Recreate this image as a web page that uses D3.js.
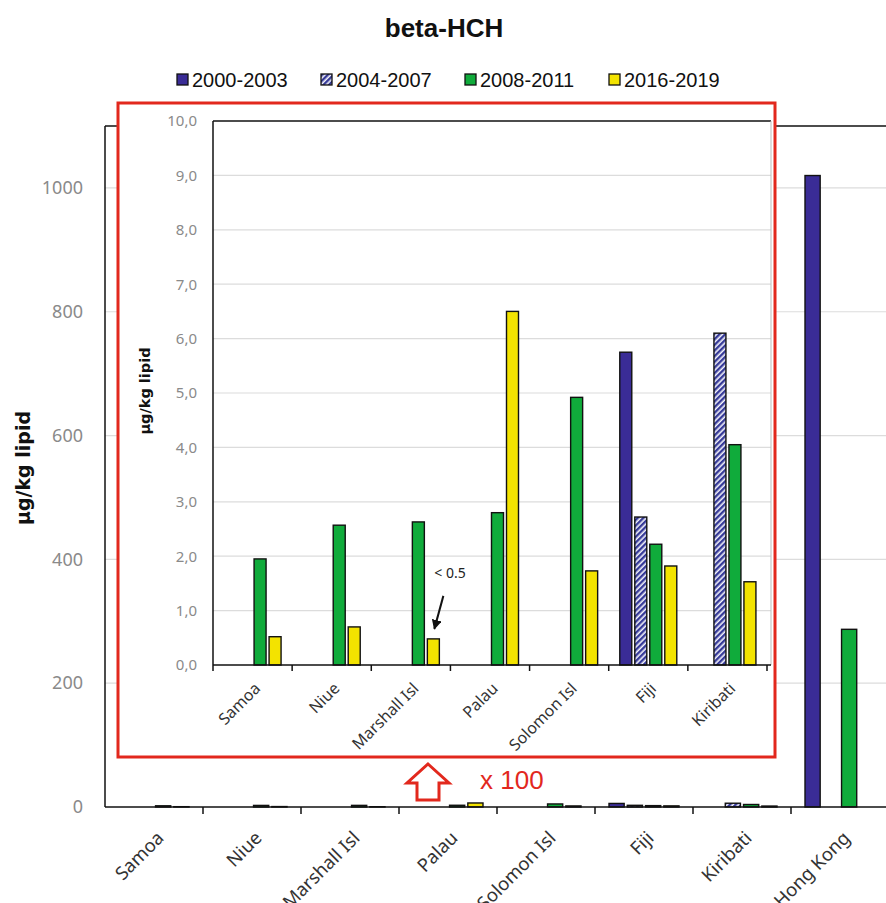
<!DOCTYPE html>
<html><head><meta charset="utf-8">
<script src="https://cdn.jsdelivr.net/npm/d3@7/dist/d3.min.js"></script>
<style>
html,body{margin:0;padding:0;background:#fff;}
svg{display:block;}
</style></head>
<body>
<script>
// ---------- data ----------
const categories = ["Samoa","Niue","Marshall Isl","Palau","Solomon Isl","Fiji","Kiribati","Hong Kong"];
const insetCategories = ["Samoa","Niue","Marshall Isl","Palau","Solomon Isl","Fiji","Kiribati"];
const seriesNames = ["2000-2003","2004-2007","2008-2011","2016-2019"];
const values2000_2003 = [null,null,null,null,null,5.75,null,1020];
const values2004_2007 = [null,null,null,null,null,2.72,6.10,null];
const values2008_2011 = [1.95,2.57,2.63,2.80,4.92,2.22,4.05,287];
const values2016_2019 = [0.52,0.70,0.48,6.50,1.73,1.82,1.53,null];
const mainTicks = [0,200,400,600,800,1000];
const insetTicks = [0,1,2,3,4,5,6,7,8,9,10];
const titleText = "beta-HCH";
const yLabel = "µg/kg lipid";
const noteText = "< 0.5";
const zoomText = "x 100";

const seriesValues = [values2000_2003, values2004_2007, values2008_2011, values2016_2019];
const colors = {"2000-2003":"#3a2c96","2004-2007":"url(#hatch)","2008-2011":"#10ab3b","2016-2019":"#f3e300"};

const W = 886, H = 903;
const svg = d3.select("body").append("svg").attr("width", W).attr("height", H)
  .style("font-family", "'Liberation Sans', Arial, sans-serif");

const defs = svg.append("defs");
const pat = defs.append("pattern").attr("id","hatch").attr("patternUnits","userSpaceOnUse")
  .attr("width",4).attr("height",4).attr("patternTransform","rotate(45)");
pat.append("rect").attr("width",4).attr("height",4).attr("fill","#f4f4fb");
pat.append("line").attr("x1",1.2).attr("y1",0).attr("x2",1.2).attr("y2",4)
  .attr("stroke","#363a98").attr("stroke-width",2.4);
defs.append("marker").attr("id","arrowhead").attr("viewBox","0 0 10 10").attr("refX",9).attr("refY",5)
  .attr("markerWidth",5).attr("markerHeight",5).attr("orient","auto")
  .append("path").attr("d","M0,0L10,5L0,10z").attr("fill","#111");

// ---------- main chart ----------
const M = {left:105, top:126, right:889, bottom:807};
const x0 = d3.scaleBand().domain(categories).range([M.left, M.right]).padding(0);
const groupW = 70;
const x1 = d3.scaleBand().domain(seriesNames).range([0, groupW]).paddingInner(0.17).paddingOuter(0);
const y = d3.scaleLinear().domain([0,1100]).range([M.bottom, M.top]);

// gridlines
svg.append("g").selectAll("line").data(mainTicks.filter(d=>d>0)).join("line")
  .attr("x1", M.left).attr("x2", W).attr("y1", d=>y(d)).attr("y2", d=>y(d))
  .attr("stroke","#dcdcdc").attr("stroke-width",1.2);

// frame top
svg.append("line").attr("x1",M.left).attr("x2",W).attr("y1",M.top).attr("y2",M.top)
  .attr("stroke","#111").attr("stroke-width",1.5);

// y axis
const yAxis = svg.append("g").attr("transform",`translate(${M.left},0)`)
  .call(d3.axisLeft(y).tickValues(mainTicks).tickSize(0).tickPadding(22).tickFormat(d3.format("d")));
yAxis.select(".domain").remove();
yAxis.selectAll("text").style("font-family","'Noto Sans', sans-serif").style("font-size","18px").attr("fill","#8a8a8a");
svg.append("line").attr("x1",M.left).attr("x2",M.left).attr("y1",M.top).attr("y2",M.bottom)
  .attr("stroke","#111").attr("stroke-width",1.5);

// bars
function drawBars(g, cats, xs0, xs1, ys, offset) {
  const rows = [];
  cats.forEach((c,i) => seriesNames.forEach((s,j) => {
    const v = seriesValues[j][i];
    if (v != null) rows.push({c, s, v});
  }));
  g.selectAll("rect").data(rows).join("rect")
    .attr("x", d => xs0(d.c) + offset + xs1(d.s))
    .attr("width", xs1.bandwidth())
    .attr("y", d => ys(d.v))
    .attr("height", d => ys(0) - ys(d.v))
    .attr("fill", d => colors[d.s])
    .attr("stroke", "#111").attr("stroke-width", 1.4);
}
drawBars(svg.append("g"), categories, x0, x1, y, (x0.bandwidth()-groupW)/2);

// x axis
svg.append("line").attr("x1",M.left).attr("x2",W).attr("y1",M.bottom).attr("y2",M.bottom)
  .attr("stroke","#111").attr("stroke-width",1.5);
const bounds = categories.map(c => x0(c)).concat([M.right]);
svg.append("g").selectAll("line").data(bounds.slice(1)).join("line")
  .attr("x1",d=>d).attr("x2",d=>d).attr("y1",M.bottom).attr("y2",M.bottom+7)
  .attr("stroke","#111").attr("stroke-width",1.5);
const xAxis = svg.append("g").attr("transform",`translate(0,${M.bottom})`)
  .call(d3.axisBottom(x0).tickSize(0));
xAxis.select(".domain").remove();
xAxis.selectAll("text")
  .attr("x",-15).attr("y",24).attr("dy","0.35em")
  .attr("transform","rotate(-45)").style("text-anchor","end")
  .style("font-family","'Noto Sans', sans-serif").style("font-size","18.5px").attr("fill","#333");

// y label
svg.append("text").attr("transform","translate(30,468) rotate(-90)")
  .attr("text-anchor","middle").style("font-family","'DejaVu Sans', sans-serif")
  .style("font-size","19px").style("font-weight","bold").attr("fill","#111")
  .text(yLabel);

// title
svg.append("text").attr("x",444).attr("y",37).attr("text-anchor","middle")
  .style("font-size","26px").style("font-weight","bold").attr("fill","#111").text(titleText);

// legend
const leg = svg.append("g").selectAll("g").data(seriesNames).join("g")
  .attr("transform",(d,i)=>`translate(${177 + i*144},80)`);
leg.append("rect").attr("x",0).attr("y",-6).attr("width",11).attr("height",11)
  .attr("fill",d=>colors[d]).attr("stroke","#111").attr("stroke-width",1.3);
leg.append("text").attr("x",15).attr("y",0).attr("dy","0.35em")
  .style("font-size","20px").attr("fill","#111").text(d=>d);

// ---------- inset ----------
svg.append("rect").attr("x",118).attr("y",103).attr("width",657).attr("height",654)
  .attr("fill","#fff").attr("stroke","#e2281d").attr("stroke-width",3);

const I = {left:213, top:121, right:767, frameRight:771, bottom:665};
const ix0 = d3.scaleBand().domain(insetCategories).range([I.left, I.right]).padding(0);
const igroupW = 57;
const ix1 = d3.scaleBand().domain(seriesNames).range([0, igroupW]).paddingInner(0.2).paddingOuter(0);
const iy = d3.scaleLinear().domain([0,10]).range([I.bottom, I.top]);

svg.append("g").selectAll("line").data(insetTicks.filter(d=>d>0 && d<10)).join("line")
  .attr("x1",I.left).attr("x2",I.frameRight).attr("y1",d=>iy(d)).attr("y2",d=>iy(d))
  .attr("stroke","#dcdcdc").attr("stroke-width",1.2);
svg.append("line").attr("x1",I.left).attr("x2",I.frameRight).attr("y1",I.top).attr("y2",I.top)
  .attr("stroke","#111").attr("stroke-width",1.5);
svg.append("line").attr("x1",I.frameRight).attr("x2",I.frameRight).attr("y1",I.top).attr("y2",I.bottom)
  .attr("stroke","#bbb").attr("stroke-width",1);

const iyAxis = svg.append("g").attr("transform",`translate(${I.left},0)`)
  .call(d3.axisLeft(iy).tickValues(insetTicks).tickSize(0).tickPadding(16)
    .tickFormat(d3.formatLocale({decimal:",",thousands:".",grouping:[3],currency:["",""]}).format(".1f")));
iyAxis.select(".domain").remove();
iyAxis.selectAll("text").style("font-family","'Noto Sans', sans-serif").style("font-size","15px").attr("fill","#8a8a8a");

drawBars(svg.append("g"), insetCategories, ix0, ix1, iy, (ix0.bandwidth()-igroupW)/2);

svg.append("line").attr("x1",I.left).attr("x2",I.left).attr("y1",I.top).attr("y2",I.bottom)
  .attr("stroke","#111").attr("stroke-width",1.5);
svg.append("line").attr("x1",I.left).attr("x2",I.frameRight).attr("y1",I.bottom).attr("y2",I.bottom)
  .attr("stroke","#111").attr("stroke-width",1.5);
const ibounds = insetCategories.map(c=>ix0(c)).concat([I.right]);
svg.append("g").selectAll("line").data(ibounds).join("line")
  .attr("x1",d=>d).attr("x2",d=>d).attr("y1",I.bottom).attr("y2",I.bottom+6)
  .attr("stroke","#111").attr("stroke-width",1.5);
const ixAxis = svg.append("g").attr("transform",`translate(0,${I.bottom})`)
  .call(d3.axisBottom(ix0).tickSize(0));
ixAxis.select(".domain").remove();
ixAxis.selectAll("text")
  .attr("x",-11).attr("y",18).attr("dy","0.35em")
  .attr("transform","rotate(-45)").style("text-anchor","end")
  .style("font-family","'Noto Sans', sans-serif").style("font-size","16px").attr("fill","#333");

svg.append("text").attr("transform","translate(150,391) rotate(-90)")
  .attr("text-anchor","middle").style("font-family","'DejaVu Sans', sans-serif")
  .style("font-size","14.5px").style("font-weight","bold").attr("fill","#111")
  .text(yLabel);

// annotation on Marshall Isl
const mx = ix0("Marshall Isl") + (ix0.bandwidth()-igroupW)/2 + ix1("2016-2019") + ix1.bandwidth()/2;
const my = iy(values2016_2019[2]);
svg.append("text").attr("x",mx+1).attr("y",my-61).style("font-size","14px")
  .style("font-family","'Noto Sans', sans-serif").attr("fill","#222").text(noteText);
svg.append("line").attr("x1",mx+10).attr("y1",my-43).attr("x2",mx+1).attr("y2",my-10)
  .attr("stroke","#111").attr("stroke-width",2).attr("marker-end","url(#arrowhead)");

// red hollow up arrow + x100
const ax = 428, at = 764;
const arrowPts = [[ax,at],[ax+21,at+19],[ax+11,at+19],[ax+11,at+36],[ax-11,at+36],[ax-11,at+19],[ax-21,at+19]];
svg.append("path").attr("d", d3.line()(arrowPts)+"Z")
  .attr("fill","#fff").attr("stroke","#e2281d").attr("stroke-width",3).attr("stroke-linejoin","miter");
svg.append("text").attr("x",480).attr("y",789).style("font-size","26px")
  .attr("fill","#e2281d").text(zoomText);
</script>
</body></html>
